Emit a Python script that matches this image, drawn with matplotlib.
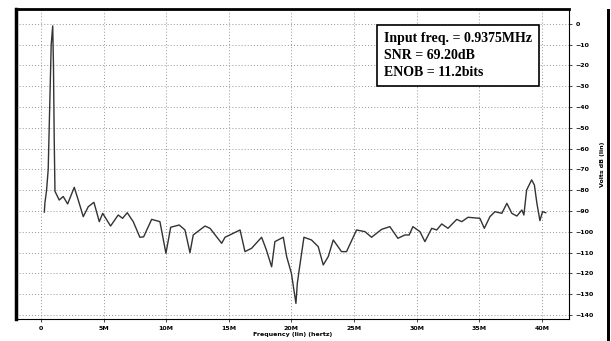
import numpy as np
import matplotlib.pyplot as plt
from matplotlib.patches import Rectangle

# spectrum (frequency in MHz, level in dB)
freq_mhz = [0.27, 0.32, 0.45, 0.58, 0.7, 0.82, 0.94, 1.0, 1.06, 1.12,
            1.46, 1.78, 2.13, 2.66, 2.98, 3.38, 3.78, 4.23, 4.66, 4.93,
            5.56, 6.17, 6.52, 6.89, 7.37, 7.9, 8.2, 8.84, 9.5, 9.98,
            10.36, 11.04, 11.5, 11.9, 12.16, 13.1, 13.5, 14.43, 14.7, 15.9,
            16.29, 16.82, 17.62, 18.0, 18.42, 18.68, 19.35, 19.62, 20.0, 20.36,
            20.47, 20.62, 21.0, 21.6, 22.14, 22.54, 22.94, 23.34, 24.0, 24.4,
            25.2, 25.87, 26.4, 27.2, 27.86, 28.5, 29.06, 29.4, 29.7, 30.26,
            30.66, 31.2, 31.6, 32.0, 32.5, 33.2, 33.6, 34.1, 35.05, 35.4,
            35.85, 36.25, 36.8, 37.2, 37.6, 38.0, 38.4, 38.56, 38.78, 39.18,
            39.4, 39.6, 39.84, 40.05, 40.3]
level_db = [-90.5, -86, -80, -70, -40, -10, -1, -20, -55, -80.5,
            -84.7, -83, -86.6, -78.6, -84.7, -92.7, -87.9, -85.8, -95.1, -91.1,
            -97.2, -91.9, -93.5, -90.8, -95.1, -102.6, -102.4, -94, -95.1, -110.3,
            -97.8, -96.7, -99.1, -110, -101.5, -97.2, -98.3, -105.5, -102.6, -99.1,
            -109.5, -107.9, -102.6, -108.7, -116.8, -104.7, -102.6, -111.9, -120, -134.4,
            -124.8, -118.3, -102.6, -103.9, -107.1, -115.9, -111.9, -103.9, -109.5, -109.5,
            -99.1, -99.9, -102.6, -98.8, -97.5, -103.1, -101.5, -101.5, -97.5, -99.9,
            -104.7, -98.3, -99.1, -96.2, -98.3, -94, -95.1, -93, -93.5, -98.3,
            -92.7, -90.3, -91.1, -86.3, -91.1, -92.4, -89.5, -91.9, -79.9, -75,
            -77.5, -86.3, -94.6, -90.3, -90.8]

x_ticks = [0, 5, 10, 15, 20, 25, 30, 35, 40]
x_labels = ["0", "5M", "10M", "15M", "20M", "25M", "30M", "35M", "40M"]
y_ticks = list(range(0, -150, -10))

fig = plt.figure(figsize=(6.11, 3.41), dpi=100)
ax = fig.add_axes([0.026, 0.0645, 0.905, 0.9095])

ax.plot(freq_mhz, level_db, color="#333333", lw=1.0)

ax.set_xlim(-2.0, 42.15)
ax.set_ylim(-141.9, 7.2)
ax.set_xticks(x_ticks, x_labels)
ax.set_yticks(y_ticks)
ax.yaxis.tick_right()
ax.yaxis.set_label_position("right")
ax.tick_params(axis="both", labelsize=4.5, length=2, width=0.5, pad=3)
for lab in ax.get_xticklabels() + ax.get_yticklabels():
    lab.set_fontweight("bold")
ax.set_xlabel("Frequency (lin) (hertz)", fontsize=4.5, labelpad=0.5, fontweight="bold")
ax.set_ylabel("Volts dB (lin)", fontsize=4.5, labelpad=4, fontweight="bold")
ax.grid(True, color="#888888", lw=0.6, ls=(0, (1.2, 2.5)))

ax.spines["left"].set_linewidth(2.5)
ax.spines["top"].set_linewidth(2.0)
ax.spines["right"].set_linewidth(0.8)
ax.spines["bottom"].set_linewidth(0.8)

txt = "Input freq. = 0.9375MHz\nSNR = 69.20dB\nENOB = 11.2bits"
ax.text(0.666, 0.925, txt, transform=ax.transAxes, family="Liberation Serif",
        fontsize=10, fontweight="bold", va="top", ha="left", linespacing=1.4,
        bbox=dict(boxstyle="square,pad=0.5", fc="white", ec="black", lw=1.2))

fig.patches.append(Rectangle((0.994, 0.0), 0.004, 0.975, transform=fig.transFigure,
                             fc="black", ec="none"))

fig.savefig("out.png", dpi=100)
